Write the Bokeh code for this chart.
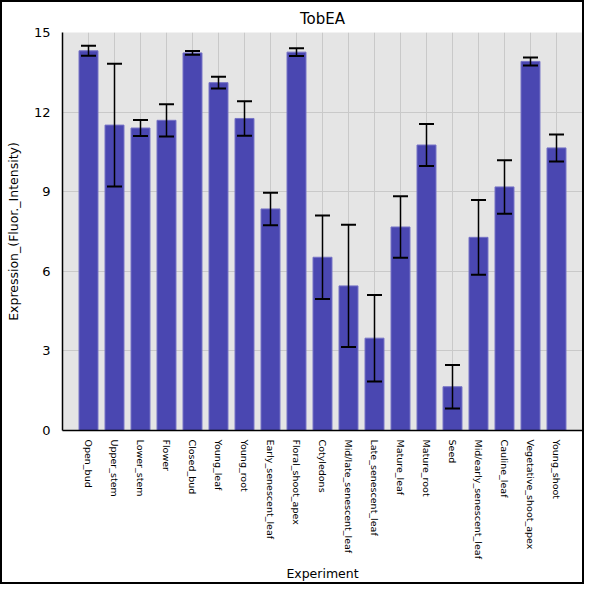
import math
from bokeh.plotting import figure
from bokeh.models import ColumnDataSource, FactorRange, Range1d, FixedTicker, Whisker, TeeHead, Title
from bokeh.embed import file_html
from bokeh.resources import INLINE

categories = ["Open_bud", "Upper_stem", "Lower_stem", "Flower", "Closed_bud",
              "Young_leaf", "Young_root", "Early_senescent_leaf", "Floral_shoot_apex",
              "Cotyledons", "Mid/late_senescent_leaf", "Late_senescent_leaf",
              "Mature_leaf", "Mature_root", "Seed", "Mid/early_senescent_leaf",
              "Cauline_leaf", "Vegetative_shoot_apex", "Young_shoot"]
means = [14.31, 11.51, 11.40, 11.69, 14.23, 13.11, 11.76, 8.35, 14.26,
         6.53, 5.45, 3.48, 7.67, 10.76, 1.65, 7.28, 9.18, 13.91, 10.65]
errors = [0.19, 2.31, 0.30, 0.61, 0.07, 0.22, 0.65, 0.61, 0.15,
          1.57, 2.30, 1.63, 1.16, 0.79, 0.82, 1.41, 1.01, 0.15, 0.51]
y_ticks = [0, 3, 6, 9, 12, 15]

src = ColumnDataSource(dict(
    cat=categories,
    top=means,
    upper=[m + e for m, e in zip(means, errors)],
    lower=[m - e for m, e in zip(means, errors)],
))

p = figure(width=580, height=580, title="TobEA",
           x_range=FactorRange(*categories, range_padding=0.5, range_padding_units="absolute"),
           y_range=Range1d(0, 15),
           output_backend="svg", toolbar_location=None,
           min_border_right=4, min_border_top=10, min_border_bottom=0)

p.vbar(x="cat", top="top", width=0.73, source=src,
       fill_color="#4a47b1", line_color="#7673c6", line_width=1)

w = Whisker(base="cat", upper="upper", lower="lower", source=src,
            line_color="black", line_width=1.5, level="overlay",
            upper_head=TeeHead(size=15, line_width=2, line_color="black"),
            lower_head=TeeHead(size=15, line_width=2, line_color="black"))
p.add_layout(w)

p.title.align = "center"
p.title.text_font = "DejaVu Sans"
p.title.text_font_size = "15px"
p.title.text_font_style = "normal"
p.title.text_color = "black"

# tiny spacer below the x-axis label
p.add_layout(Title(text=" ", text_font_size="1px", standoff=0), "below")

p.background_fill_color = "#e5e5e5"
p.border_fill_color = "white"
p.outline_line_color = None
p.grid.grid_line_color = "#c9c9c9"
p.grid.grid_line_width = 1

p.yaxis.ticker = FixedTicker(ticks=y_ticks)
p.yaxis.axis_label = "Expression_(Fluor._Intensity)"
p.xaxis.axis_label = "Experiment"
for ax in (p.xaxis[0], p.yaxis[0]):
    ax.axis_label_text_font = "DejaVu Sans"
    ax.axis_label_text_font_size = "12.5px"
    ax.axis_label_text_font_style = "normal"
    ax.axis_label_text_color = "black"
    ax.major_label_text_font = "DejaVu Sans"
    ax.major_label_text_color = "black"
    ax.axis_line_color = "black"
    ax.axis_line_width = 1.5
    ax.major_tick_line_color = None
    ax.minor_tick_line_color = None
p.yaxis.major_label_text_font_size = "13px"
p.xaxis.major_label_text_font_size = "9.5px"
p.xaxis.major_label_orientation = -math.pi / 2
p.xaxis.major_label_standoff = 3
p.xaxis.axis_label_standoff = 4
p.yaxis.axis_label_standoff = 10
p.yaxis.major_label_standoff = 6

p.styles = {"border": "2px solid black", "box-sizing": "content-box"}

open("out.html", "w").write(file_html(p, INLINE))
